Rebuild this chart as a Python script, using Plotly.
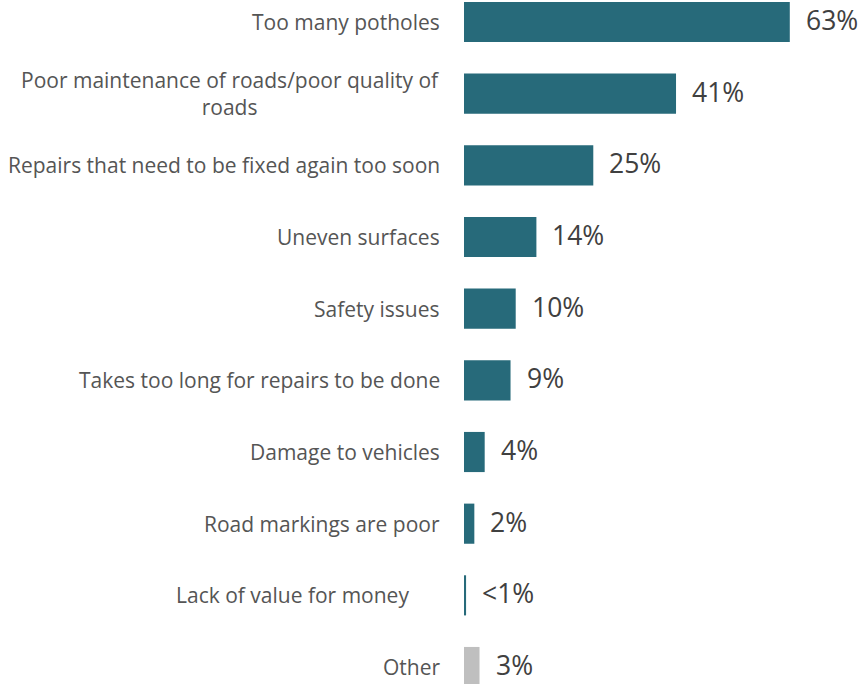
import plotly.graph_objects as go

categories = [
    "Too many potholes",
    "Poor maintenance of roads/poor quality of<br>roads",
    "Repairs that need to be fixed again too soon",
    "Uneven surfaces",
    "Safety issues",
    "Takes too long for repairs to be done",
    "Damage to vehicles",
    "Road markings are poor",
    "Lack of value for money",
    "Other",
]
values = [63, 41, 25, 14, 10, 9, 4, 2, 0.4, 3]
value_labels = ["63%", "41%", "25%", "14%", "10%", "9%", "4%", "2%", "<1%", "3%"]

TEAL = "#276A7A"
GREY = "#BFBFBF"
CAT_TEXT = "#555555"
VAL_TEXT = "#404040"
FONT = "Open Sans"
colors = [GREY if c == "Other" else TEAL for c in categories]
# extra left offset (px) for labels that sit further from the axis
extra_pad = {"Lack of value for money": 31}

fig = go.Figure(
    go.Bar(
        x=values,
        y=list(range(len(categories))),
        orientation="h",
        marker=dict(color=colors, line=dict(width=0)),
        width=0.56,
        hoverinfo="skip",
    )
)

annotations = []
for i, (cat, val, lab) in enumerate(zip(categories, values, value_labels)):
    # category name, right-aligned to the left of the bars
    annotations.append(dict(
        x=0, y=i, xref="x", yref="y", text=cat, showarrow=False,
        xanchor="right", yanchor="middle", align="center",
        xshift=-22 - extra_pad.get(cat, 0),
        font=dict(family=FONT, size=21, color=CAT_TEXT),
    ))
    # value label just past the end of the bar
    annotations.append(dict(
        x=val, y=i, xref="x", yref="y", text=lab, showarrow=False,
        xanchor="left", yanchor="middle", xshift=14, yshift=2,
        font=dict(family=FONT, size=26.5, color=VAL_TEXT),
    ))

fig.update_layout(
    width=865, height=684,
    margin=dict(l=464, r=39, t=0, b=0),
    paper_bgcolor="white", plot_bgcolor="white",
    showlegend=False,
    xaxis=dict(range=[0, 70], visible=False),
    yaxis=dict(range=[9.237, -0.307], visible=False),
    annotations=annotations,
)

fig.write_html("out.html")
